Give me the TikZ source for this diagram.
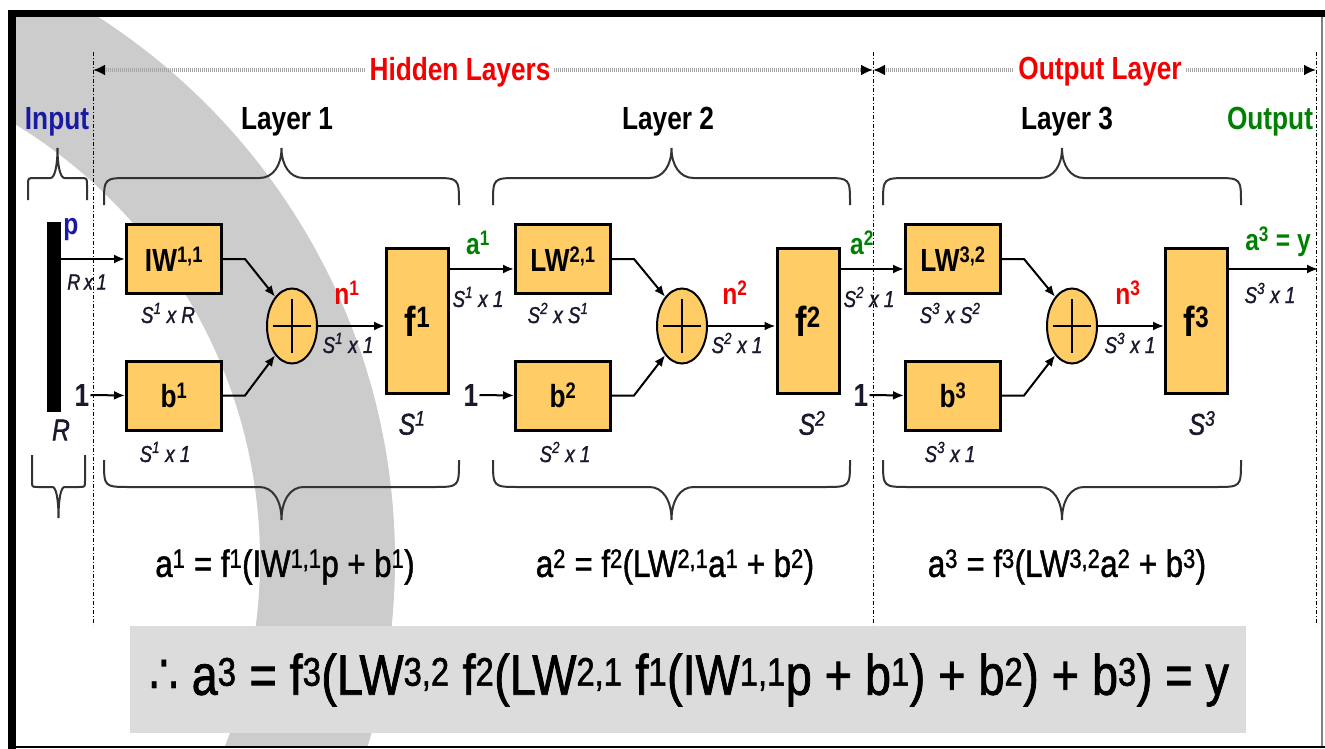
\documentclass[tikz,border=0pt]{standalone}
\usepackage{fontspec}
\setmainfont{Liberation Sans}[FakeStretch=0.82]
\newfontfamily\midf{Liberation Sans}[FakeStretch=0.82, FakeBold=1.3]
\newfontfamily\djv{DejaVu Sans}[FakeStretch=0.82]
\usetikzlibrary{arrows.meta,shapes.geometric}
\definecolor{boxfill}{RGB}{255,204,102}
\definecolor{arcgray}{RGB}{204,204,204}
\definecolor{eqgray}{RGB}{220,220,220}
\definecolor{myred}{RGB}{245,0,0}
\definecolor{mygreen}{RGB}{0,128,0}
\definecolor{myblue}{RGB}{25,25,165}
\definecolor{ink}{RGB}{25,25,45}
\newcommand\fsz[1]{\fontsize{#1}{#1}\selectfont}
\newcommand\sps[1]{\textsuperscript{#1}}
% brace: xa xb yend yline ytip r t
\newcommand\mybrace[7]{%
  \draw[brc] (#1,#3) -- (#1,{#4+#6*sign(#3-#4)}) .. controls (#1,#4) .. ({#1+#6},#4)
    -- ({(#1+#2)/2-#7},#4) .. controls ({(#1+#2)/2-0.4*#7},#4) and ({(#1+#2)/2},{#4+0.4*(#5-#4)}) .. ({(#1+#2)/2},#5)
    .. controls ({(#1+#2)/2},{#4+0.4*(#5-#4)}) and ({(#1+#2)/2+0.4*#7},#4) .. ({(#1+#2)/2+#7},#4)
    -- ({#2-#6},#4) .. controls (#2,#4) .. (#2,{#4+#6*sign(#3-#4)}) -- (#2,#3);}
\tikzset{
  wbox/.style={draw, line width=3pt, fill=boxfill, minimum width=95pt, minimum height=69pt, inner sep=0pt, font=\fsz{32}\bfseries},
  tfbox/.style={draw, line width=3pt, fill=boxfill, minimum width=62pt, minimum height=145pt, inner sep=0pt, font=\fsz{42}\bfseries},
  sumnode/.style={ellipse, draw, line width=2pt, fill=boxfill, minimum width=50pt, minimum height=75pt, inner sep=0pt},
  arr/.style={line width=2pt, -{Latex[length=11pt,width=9pt]}},
  dimlbl/.style={font=\midf\fsz{23}\itshape, text=ink, inner sep=0pt},
  biglbl/.style={font=\fsz{32}\bfseries, inner sep=0pt},
  sig/.style={font=\fsz{30}\bfseries, inner sep=0pt},
  brc/.style={line width=2pt, draw=black!80},
  sepline/.style={line width=1pt, dash pattern=on 4pt off 2pt on 1pt off 2pt},
  spanline/.style={line width=3.5pt, draw=black!35, dash pattern=on 1pt off 1pt,
     {Latex[color=black,length=12pt,width=11pt]}-{Latex[color=black,length=12pt,width=11pt]}},
  eqtxt/.style={font=\midf\fsz{38}, inner sep=0pt},
}
\begin{document}
\begin{tikzpicture}[x=1pt,y=-1pt]
\useasboundingbox (0,0) rectangle (1325,749);
% background arc band
\begin{scope}
  \clip (16,17) rectangle (1321,746);
  \fill[arcgray,even odd rule] (-250,560) circle[radius=645pt] (-250,560) circle[radius=510pt];
\end{scope}
% frame
\fill[black] (8,10) rectangle (1325,17);
\fill[black] (8,10) rectangle (16,749);
\draw[black,line width=2pt] (16,747) -- (1325,747);
\draw[black!50,line width=2pt] (1322,17) -- (1322,746);
% equation box
\fill[eqgray] (130,626) rectangle (1246,733);
% separators
\draw[sepline] (93,52) -- (93,625);
\draw[sepline] (873,52) -- (873,625);
\draw[sepline] (1316,52) -- (1316,625);
% span arrows
\coordinate (hl) at (93,70);
\coordinate (hr) at (873,70);
\coordinate (orr) at (1316,70);
\draw[spanline] (hl) -- (hr);
\draw[spanline] (hr) -- (orr);
\node[font=\fsz{32}\bfseries, text=myred, fill=white, inner xsep=4pt, inner ysep=2pt] (hid) at (460,72) {Hidden Layers};
\node[font=\fsz{32}\bfseries, text=myred, fill=white, inner xsep=4pt, inner ysep=2pt] (outl) at (1100,72) {Output Layer};
% titles
\node[biglbl, text=myblue] (tin) at (57,122) {Input};
\node[biglbl] (tl1) at (287,122) {Layer 1};
\node[biglbl] (tl2) at (668,122) {Layer 2};
\node[biglbl] (tl3) at (1067,122) {Layer 3};
\node[biglbl, text=mygreen] (tout) at (1270,122) {Output};
% braces
\mybrace{28}{87}{200}{178}{148}{7}{7}
\mybrace{104}{459}{205}{178}{148}{26}{22}
\mybrace{493}{850}{205}{178}{148}{26}{22}
\mybrace{883}{1241}{205}{178}{148}{26}{22}
\mybrace{32}{85}{455}{487}{518}{6}{6}
\mybrace{104}{459}{460}{487}{520}{26}{22}
\mybrace{493}{850}{460}{487}{520}{26}{22}
\mybrace{883}{1241}{460}{487}{520}{26}{22}
% input
\node[fill=black, minimum width=14pt, minimum height=190pt, inner sep=0pt] (bar) at (54,317) {};
\node[font=\fsz{30}\bfseries, text=myblue, inner sep=0pt] (p) at (71,230) {p};
\node[dimlbl, font=\midf\fsz{22}\itshape] (rx1) at (87,282) {R\,x\,1};
\node[font=\midf\fsz{30}\itshape, text=ink, inner sep=0pt] (rlbl) at (61,430) {R};
% layer 1
\node[wbox] (IW1) at (174,259) {IW\sps{1,1}};
\node[wbox] (b1) at (174,395.5) {b\sps{1}};
\node[sumnode] (S1) at (292,326) {};
\node[tfbox] (f1) at (417.5,321) {f\sps{1}};
\node[font=\fsz{32}\bfseries, text=ink, inner sep=1pt] (one1) at (82,395) {1};
\node[dimlbl] (d1a) at (168,313) {S\sps{1} x R};
\node[dimlbl] (d1b) at (165,452) {S\sps{1} x 1};
\node[sig, text=myred] (n1) at (347,293) {n\sps{1}};
\node[dimlbl] (d1c) at (348,343) {S\sps{1} x 1};
\node[font=\midf\fsz{30}\itshape, text=ink, inner sep=0pt] (s1) at (412,423) {S\sps{1}};
\node[sig, text=mygreen] (a1) at (478,243) {a\sps{1}};
\node[dimlbl] (d1d) at (478,297) {S\sps{1} x 1};
% layer 2
\node[wbox] (LW2) at (563,259) {LW\sps{2,1}};
\node[wbox] (b2) at (563,395.5) {b\sps{2}};
\node[sumnode] (S2) at (682,326) {};
\node[tfbox] (f2) at (808,321) {f\sps{2}};
\node[font=\fsz{32}\bfseries, text=ink, inner sep=1pt] (one2) at (471,395) {1};
\node[dimlbl] (d2a) at (558,313) {S\sps{2} x S\sps{1}};
\node[dimlbl] (d2b) at (565,452) {S\sps{2} x 1};
\node[sig, text=myred] (n2) at (735,293) {n\sps{2}};
\node[dimlbl] (d2c) at (737,343) {S\sps{2} x 1};
\node[font=\midf\fsz{30}\itshape, text=ink, inner sep=0pt] (s2) at (812,423) {S\sps{2}};
\node[sig, text=mygreen] (a2) at (862,243) {a\sps{2}};
\node[dimlbl] (d2d) at (869,297) {S\sps{2} x 1};
% layer 3
\node[wbox] (LW3) at (953,259) {LW\sps{3,2}};
\node[wbox] (b3) at (953,395.5) {b\sps{3}};
\node[sumnode] (S3) at (1072,326) {};
\node[tfbox] (f3) at (1196.5,321) {f\sps{3}};
\node[font=\fsz{32}\bfseries, text=ink, inner sep=1pt] (one3) at (861,395) {1};
\node[dimlbl] (d3a) at (950,313) {S\sps{3} x S\sps{2}};
\node[dimlbl] (d3b) at (950,452) {S\sps{3} x 1};
\node[sig, text=myred] (n3) at (1128,293) {n\sps{3}};
\node[dimlbl] (d3c) at (1130,343) {S\sps{3} x 1};
\node[font=\midf\fsz{30}\itshape, text=ink, inner sep=0pt] (s3) at (1202,423) {S\sps{3}};
\node[sig, text=mygreen] (a3) at (1278,242) {a\sps{3} = y};
\node[dimlbl] (d3d) at (1270,293) {S\sps{3} x 1};
\coordinate (outp) at (1318,269);
% plus signs
\foreach \s in {S1,S2,S3}{
  \draw[line width=2.5pt] (\s.center) ++(-19,0) -- ++(38,0);
  \draw[line width=2.5pt] (\s.center) ++(0,-27) -- ++(0,54);
}
% connectors
\draw[arr] (bar.east |- IW1.west) -- (IW1.west);
\foreach \w/\b/\s/\f/\o in {IW1/b1/S1/f1/one1, LW2/b2/S2/f2/one2, LW3/b3/S3/f3/one3}{
  \draw[arr] (\o.east) -- (\b.west);
  \draw[arr] (\w.east) -- ++(22,0) -- (\s.120);
  \draw[arr] (\b.east) -- ++(22,0) -- (\s.240);
  \draw[arr] (\s.east) -- (\s.east -| \f.west);
}
\draw[arr] (f1.north east) ++(0,22) coordinate (a1s) -- (a1s -| LW2.west);
\draw[arr] (f2.north east) ++(0,22) coordinate (a2s) -- (a2s -| LW3.west);
\draw[arr] (f3.north east) ++(0,22) coordinate (a3s) -- (a3s -| outp);
% equations
\node[eqtxt] (e1) at (285,567) {a\sps{1} = f\sps{1}(IW\sps{1,1}p + b\sps{1})};
\node[eqtxt] (e2) at (675,567) {a\sps{2} = f\sps{2}(LW\sps{2,1}a\sps{1} + b\sps{2})};
\node[eqtxt] (e3) at (1067,567) {a\sps{3} = f\sps{3}(LW\sps{3,2}a\sps{2} + b\sps{3})};
\node[font=\midf\fsz{57}, inner sep=0pt] (ebig) at (689,680) {{\djv ∴} a\sps{3} = f\sps{3}(LW\sps{3,2} f\sps{2}(LW\sps{2,1} f\sps{1}(IW\sps{1,1}p + b\sps{1}) + b\sps{2}) + b\sps{3}) = y};
\end{tikzpicture}
\end{document}
